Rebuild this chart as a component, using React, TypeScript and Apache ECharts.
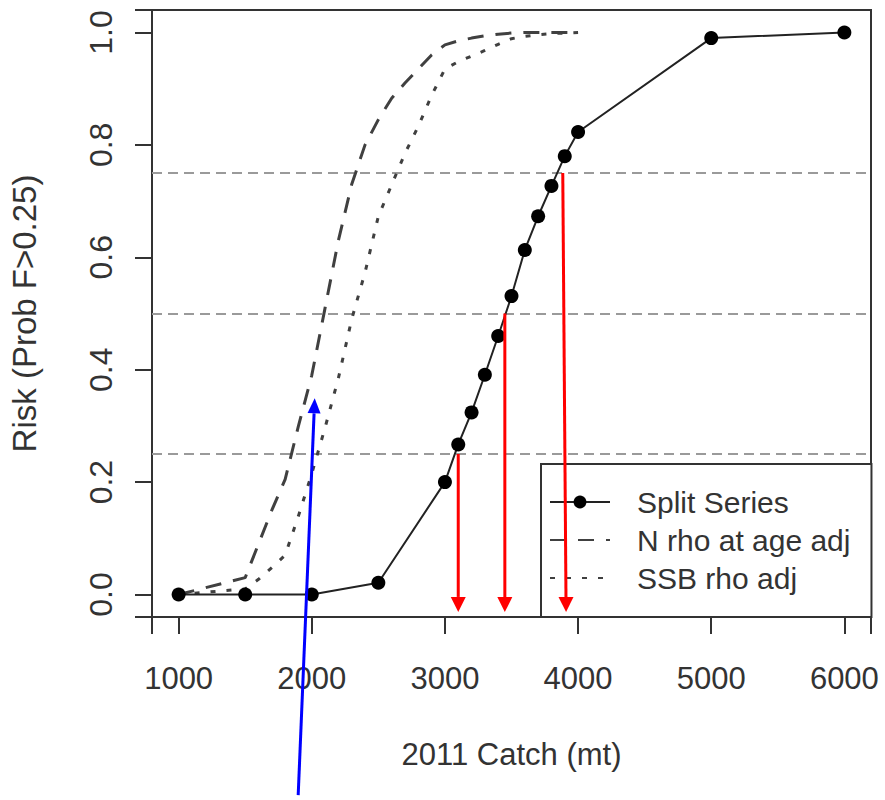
import React, { useEffect, useRef } from "react";
import * as echarts from "echarts";

// ---- data ----
const splitCatch = [1000, 1500, 2000, 2500, 3000, 3100, 3200, 3300, 3400, 3500, 3600, 3700, 3800, 3900, 4000, 5000, 6000];
const splitRisk = [0, 0, 0, 0.021, 0.2, 0.267, 0.324, 0.391, 0.46, 0.531, 0.613, 0.673, 0.727, 0.78, 0.823, 0.99, 1.0];

const adjCatch = [1000, 1500, 1600, 1700, 1800, 1900, 2000, 2100, 2200, 2300, 2400, 2500, 2600, 2700, 2800, 2900, 3000, 3100, 3200, 3300, 3400, 3500, 3600, 3700, 3800, 3900, 4000];
const nRhoRisk = [0, 0.03, 0.09, 0.15, 0.205, 0.3, 0.39, 0.51, 0.63, 0.73, 0.8, 0.845, 0.883, 0.91, 0.935, 0.96, 0.978, 0.985, 0.99, 0.994, 0.997, 0.999, 1.0, 1.0, 1.0, 1.0, 1.0];
const ssbRhoRisk = [0, 0.01, 0.027, 0.048, 0.07, 0.14, 0.215, 0.297, 0.385, 0.49, 0.573, 0.673, 0.729, 0.785, 0.833, 0.888, 0.935, 0.948, 0.958, 0.968, 0.979, 0.989, 0.993, 0.996, 0.998, 0.999, 1.0];

const refLevels = [0.25, 0.5, 0.75];
const xTicks = [1000, 2000, 3000, 4000, 5000, 6000];
const yTicks = [0, 0.2, 0.4, 0.6, 0.8, 1.0];

// arrows: [x0, y0, x1(tip), y1(tip)] in data units
const redArrows = [
  [3100, 0.25, 3100, -0.031],
  [3450, 0.5, 3450, -0.031],
  [3885, 0.75, 3910, -0.031],
];
const blueArrows = [[1898, -0.357, 2022, 0.349]];

const seriesNames = ["Split Series", "N rho at age adj", "SSB rho adj"];

const X_MIN = 800;
const X_MAX = 6200;
const Y_MIN = -0.04;
const Y_MAX = 1.04;

const TEXT = "#333333";
const AXIS = "#333333";
const FONT = "'Liberation Sans', Arial, sans-serif";
const TICK_LEN = 17;

function arrowSeries(name: string, data: number[][], color: string, headLen: number, headHalf: number) {
  return {
    type: "custom",
    name,
    coordinateSystem: "cartesian2d",
    clip: false,
    silent: true,
    z: 10,
    data,
    encode: { x: [0, 2], y: [1, 3] },
    renderItem: (params: any, api: any) => {
      const p1 = api.coord([api.value(0), api.value(1)]);
      const p2 = api.coord([api.value(2), api.value(3)]);
      const dx = p2[0] - p1[0];
      const dy = p2[1] - p1[1];
      const len = Math.hypot(dx, dy) || 1;
      const ux = dx / len;
      const uy = dy / len;
      const bx = p2[0] - ux * headLen;
      const by = p2[1] - uy * headLen;
      const px = -uy;
      const py = ux;
      return {
        type: "group",
        children: [
          {
            type: "line",
            shape: { x1: p1[0], y1: p1[1], x2: bx, y2: by },
            style: { stroke: color, lineWidth: 3 },
          },
          {
            type: "polygon",
            shape: {
              points: [
                [p2[0], p2[1]],
                [bx + px * headHalf, by + py * headHalf],
                [bx - px * headHalf, by - py * headHalf],
              ],
            },
            style: { fill: color },
          },
        ],
      };
    },
  };
}

export default function App() {
  const ref = useRef<HTMLDivElement>(null);

  useEffect(() => {
    if (!ref.current) return;
    const chart = echarts.init(ref.current, null, { renderer: "svg" });
    const option: any = {
      animation: false,
      backgroundColor: "#ffffff",
      textStyle: { fontFamily: FONT },
      grid: {
        left: 148,
        right: 14,
        top: 10,
        bottom: 183,
        show: true,
        borderColor: AXIS,
        borderWidth: 2,
        backgroundColor: "transparent",
        containLabel: false,
      },
      legend: {
        data: [
          { name: seriesNames[0] },
          { name: seriesNames[1], itemStyle: { opacity: 0 } },
          { name: seriesNames[2], itemStyle: { opacity: 0 } },
        ],
        orient: "vertical",
        left: 541,
        top: 464,
        padding: [23, 21, 24, 8],
        itemGap: 8,
        itemWidth: 60,
        itemHeight: 16,
        borderColor: AXIS,
        borderWidth: 2,
        borderRadius: 0,
        backgroundColor: "#ffffff",
        selectedMode: false,
        z: 5,
        textStyle: {
          fontFamily: FONT,
          fontSize: 30,
          lineHeight: 30,
          color: TEXT,
          padding: [0, 0, 0, 22],
        },
      },
      xAxis: {
        type: "value",
        min: X_MIN,
        max: X_MAX,
        splitNumber: 5,
        name: "2011 Catch (mt)",
        nameLocation: "middle",
        nameGap: 122,
        nameTextStyle: { fontFamily: FONT, fontSize: 31, color: TEXT },
        axisLine: { show: true, onZero: false, lineStyle: { color: AXIS, width: 2 } },
        axisTick: {
          show: true,
          inside: false,
          length: TICK_LEN,
          lineStyle: { color: AXIS, width: 2 },
        },
        axisLabel: {
          show: true,
          customValues: xTicks,
          margin: 46,
          fontFamily: FONT,
          fontSize: 31,
          color: TEXT,
          formatter: (v: number) => String(v),
        },
        splitLine: { show: false },
      },
      yAxis: {
        type: "value",
        min: Y_MIN,
        max: Y_MAX,
        splitNumber: 5,
        name: "Risk (Prob F>0.25)",
        nameLocation: "middle",
        nameGap: 111,
        nameTextStyle: { fontFamily: FONT, fontSize: 33, color: TEXT },
        axisLine: { show: true, onZero: false, lineStyle: { color: AXIS, width: 2 } },
        axisTick: {
          show: true,
          inside: false,
          length: TICK_LEN,
          lineStyle: { color: AXIS, width: 2 },
        },
        axisLabel: {
          show: true,
          customValues: yTicks,
          rotate: 90,
          margin: 35,
          fontFamily: FONT,
          fontSize: 32,
          color: TEXT,
          formatter: (v: number) => v.toFixed(1),
        },
        splitLine: { show: false },
      },
      series: [
        {
          name: seriesNames[0],
          type: "line",
          data: splitCatch.map((c, i) => [c, splitRisk[i]]),
          symbol: "circle",
          symbolSize: 14,
          showAllSymbol: true,
          lineStyle: { color: "#222222", width: 2 },
          itemStyle: { color: "#000000" },
          z: 4,
          markLine: {
            silent: true,
            symbol: ["none", "none"],
            label: { show: false },
            lineStyle: { color: "#9a9a9a", type: [10, 6], width: 2 },
            data: refLevels.map((v) => ({ yAxis: v })),
            z: 1,
          },
        },
        {
          name: seriesNames[1],
          type: "line",
          data: adjCatch.map((c, i) => [c, nRhoRisk[i]]),
          symbol: "none",
          lineStyle: { color: "#404040", width: 3, type: [16, 12] },
          itemStyle: { color: "#404040", opacity: 0 },
          z: 3,
        },
        {
          name: seriesNames[2],
          type: "line",
          data: adjCatch.map((c, i) => [c, ssbRhoRisk[i]]),
          symbol: "none",
          lineStyle: { color: "#404040", width: 3, type: [5, 11] },
          itemStyle: { color: "#404040", opacity: 0 },
          z: 3,
        },
        arrowSeries("red arrows", redArrows, "#ff0000", 15, 7.5),
        arrowSeries("blue arrow", blueArrows, "#0000ff", 15, 6.5),
      ],
    };
    chart.setOption(option);

    return () => {
      chart.dispose();
    };
  }, []);

  return (
    <div
      ref={ref}
      style={{ position: "fixed", left: 0, top: 0, width: 885, height: 800, background: "#fff" }}
    />
  );
}
